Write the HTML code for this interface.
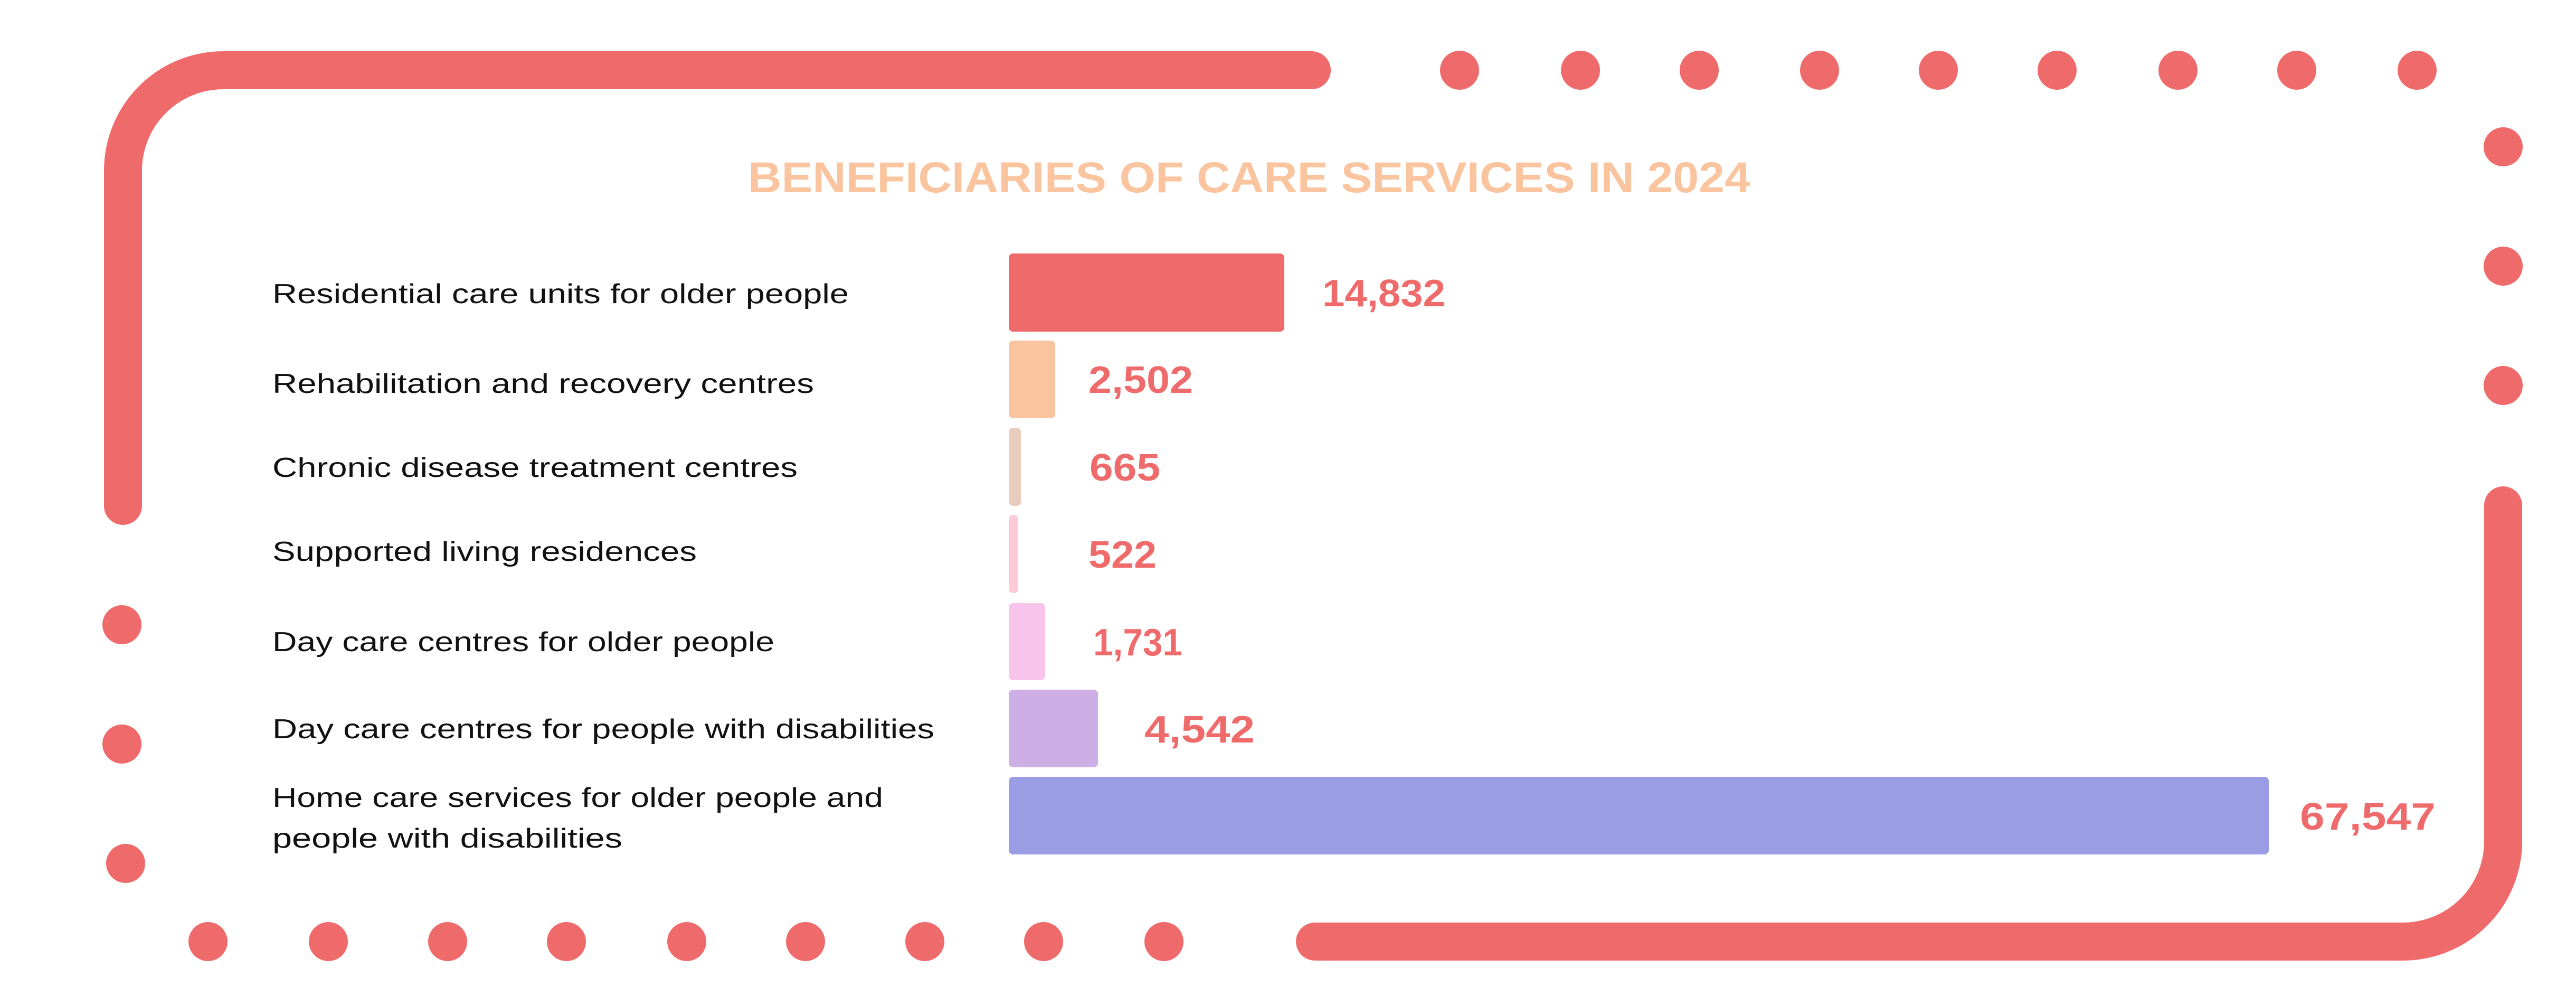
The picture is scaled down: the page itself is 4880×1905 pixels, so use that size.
<!DOCTYPE html>
<html><head><meta charset="utf-8"><style>html,body{margin:0;padding:0;background:#fff}svg{display:block}</style></head>
<body>
<svg width="4880" height="1905" viewBox="0 0 4880 1905" xmlns="http://www.w3.org/2000/svg">
<g fill="none" stroke="#EF6B6B" stroke-width="72" stroke-linecap="round">
<path d="M233,958 L233,323 A190,190 0 0 1 423,133 L2485,133"/>
<path d="M4742,957 L4742,1593 A190,190 0 0 1 4552,1783 L2491,1783"/>
</g>
<g fill="#EF6B6B">
<circle cx="2765" cy="133" r="37"/><circle cx="2994" cy="133" r="37"/><circle cx="3219" cy="133" r="37"/><circle cx="3447" cy="133" r="37"/><circle cx="3672" cy="133" r="37"/><circle cx="3897" cy="133" r="37"/><circle cx="4126" cy="133" r="37"/><circle cx="4351" cy="133" r="37"/><circle cx="4579" cy="133" r="37"/>
<circle cx="4742" cy="278" r="37"/><circle cx="4742" cy="504" r="37"/><circle cx="4742" cy="730" r="37"/>
<circle cx="231" cy="1183" r="37"/><circle cx="231" cy="1409" r="37"/><circle cx="238" cy="1635" r="37"/>
<circle cx="394" cy="1783" r="37"/><circle cx="622" cy="1783" r="37"/><circle cx="848" cy="1783" r="37"/><circle cx="1073" cy="1783" r="37"/><circle cx="1301" cy="1783" r="37"/><circle cx="1526" cy="1783" r="37"/><circle cx="1752" cy="1783" r="37"/><circle cx="1977" cy="1783" r="37"/><circle cx="2205" cy="1783" r="37"/>
</g>
<text x="1417" y="364" font-family="Liberation Sans, sans-serif" font-weight="bold" font-size="82" fill="#F9C49E" textLength="1899" lengthAdjust="spacingAndGlyphs">BENEFICIARIES OF CARE SERVICES IN 2024</text>
<g>
<rect x="1911" y="480" width="522" height="148" rx="8" fill="#EF6B6B"/>
<rect x="1911" y="645" width="88" height="147" rx="8" fill="#F9C49E"/>
<rect x="1911" y="810" width="23" height="148" rx="8" fill="#E8CDBE"/>
<rect x="1911" y="975" width="18" height="148" rx="8" fill="#FECAD8"/>
<rect x="1911" y="1142" width="69" height="146" rx="8" fill="#F9C4EC"/>
<rect x="1911" y="1306" width="169" height="147" rx="8" fill="#CDAFE6"/>
<rect x="1911" y="1471" width="2387" height="147" rx="8" fill="#9A9DE3"/>
</g>
<g font-family="Liberation Sans, sans-serif" font-size="52" fill="#111">
<text x="516" y="574" textLength="1092" lengthAdjust="spacingAndGlyphs">Residential care units for older people</text>
<text x="516" y="744" textLength="1026" lengthAdjust="spacingAndGlyphs">Rehabilitation and recovery centres</text>
<text x="516" y="903" textLength="995" lengthAdjust="spacingAndGlyphs">Chronic disease treatment centres</text>
<text x="516" y="1062" textLength="804" lengthAdjust="spacingAndGlyphs">Supported living residences</text>
<text x="516" y="1233" textLength="951" lengthAdjust="spacingAndGlyphs">Day care centres for older people</text>
<text x="516" y="1398" textLength="1254" lengthAdjust="spacingAndGlyphs">Day care centres for people with disabilities</text>
<text x="516" y="1528" textLength="1157" lengthAdjust="spacingAndGlyphs">Home care services for older people and</text>
<text x="516" y="1605" textLength="663" lengthAdjust="spacingAndGlyphs">people with disabilities</text>
</g>
<g font-family="Liberation Sans, sans-serif" font-weight="bold" font-size="72" fill="#EF6B6B">
<text x="2505" y="580" textLength="233" lengthAdjust="spacingAndGlyphs">14,832</text>
<text x="2062" y="744" textLength="198" lengthAdjust="spacingAndGlyphs">2,502</text>
<text x="2064" y="910" textLength="134" lengthAdjust="spacingAndGlyphs">665</text>
<text x="2062" y="1075" textLength="129" lengthAdjust="spacingAndGlyphs">522</text>
<text x="2071" y="1241" textLength="169" lengthAdjust="spacingAndGlyphs">1,731</text>
<text x="2168" y="1406" textLength="209" lengthAdjust="spacingAndGlyphs">4,542</text>
<text x="4357" y="1571" textLength="257" lengthAdjust="spacingAndGlyphs">67,547</text>
</g>
</svg>
</body></html>
